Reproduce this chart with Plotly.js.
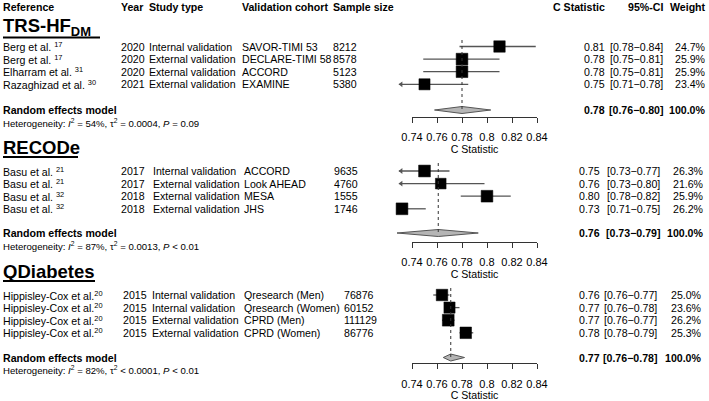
<!DOCTYPE html>
<html>
<head>
<meta charset="utf-8">
<script src="https://cdn.plot.ly/plotly-3.0.1.min.js"></script>
<style>html,body{margin:0;padding:0;background:#fff}</style>
</head>
<body>
<div id="chart" style="width:709px;height:401px"></div>
<script>
// TRS-HF_DM
const trsRefs = ['Berg et al.', 'Berg et al.', 'Elharram et al.', 'Razaghizad et al.'];
const trsCites = ['17', '17', '31', '30'];
const trsYears = ['2020', '2020', '2020', '2021'];
const trsTypes = ['Internal validation', 'External validation', 'External validation', 'External validation'];
const trsCohorts = ['SAVOR-TIMI 53', 'DECLARE-TIMI 58', 'ACCORD', 'EXAMINE'];
const trsN = ['8212', '8578', '5123', '5380'];
const trsEst = [0.810, 0.780, 0.780, 0.750];
const trsLo = [0.778, 0.749, 0.749, 0.710];
const trsHi = [0.839, 0.810, 0.810, 0.785];
const trsStat = ['0.81', '0.78', '0.78', '0.75'];
const trsCi = ['[0.78−0.84]', '[0.75−0.81]', '[0.75−0.81]', '[0.71−0.78]'];
const trsWeight = [24.7, 25.9, 25.9, 23.4];
const trsPooled = [0.780, 0.758, 0.803];
const trsPooledText = ['0.78', '[0.76−0.80]'];
const trsHet = ['54%', '= 0.0004', '= 0.09'];

// RECODe
const recRefs = ['Basu et al.', 'Basu et al.', 'Basu et al.', 'Basu et al.'];
const recCites = ['21', '21', '32', '32'];
const recYears = ['2017', '2017', '2018', '2018'];
const recTypes = ['Internal validation', 'External validation', 'External validation', 'External validation'];
const recCohorts = ['ACCORD', 'Look AHEAD', 'MESA', 'JHS'];
const recN = ['9635', '4760', '1555', '1746'];
const recEst = [0.750, 0.763, 0.800, 0.732];
const recLo = [0.725, 0.726, 0.779, 0.710];
const recHi = [0.770, 0.798, 0.819, 0.751];
const recStat = ['0.75', '0.76', '0.80', '0.73'];
const recCi = ['[0.73−0.77]', '[0.73−0.80]', '[0.78−0.82]', '[0.71−0.75]'];
const recWeight = [26.3, 21.6, 25.9, 26.2];
const recPooled = [0.761, 0.728, 0.793];
const recPooledText = ['0.76', '[0.73−0.79]'];
const recHet = ['87%', '= 0.0013', '&lt; 0.01'];

// QDiabetes
const qdRefs = ['Hippisley-Cox et al.', 'Hippisley-Cox et al.', 'Hippisley-Cox et al.', 'Hippisley-Cox et al.'];
const qdCites = ['20', '20', '20', '20'];
const qdYears = ['2015', '2015', '2015', '2015'];
const qdTypes = ['Internal validation', 'Internal validation', 'External validation', 'External validation'];
const qdCohorts = ['Qresearch (Men)', 'Qresearch (Women)', 'CPRD (Men)', 'CPRD (Women)'];
const qdN = ['76876', '60152', '111129', '86776'];
const qdEst = [0.764, 0.770, 0.769, 0.783];
const qdLo = [0.757, 0.766, 0.764, 0.778];
const qdHi = [0.770, 0.778, 0.774, 0.789];
const qdStat = ['0.76', '0.77', '0.77', '0.78'];
const qdCi = ['[0.76−0.77]', '[0.76−0.78]', '[0.76−0.77]', '[0.78−0.79]'];
const qdWeight = [25.0, 23.6, 26.2, 25.3];
const qdPooled = [0.771, 0.765, 0.782];
const qdPooledText = ['0.77', '[0.76−0.78]'];
const qdHet = ['82%', '&lt; 0.0001', '&lt; 0.01'];

const headers = ['Reference', 'Year', 'Study type', 'Validation cohort', 'Sample size'];
const headersRight = ['C Statistic', '95%-CI', 'Weight'];
const cTicks = [0.74, 0.76, 0.78, 0.80, 0.82, 0.84];
const cTickLabels = ['0.74', '0.76', '0.78', '0.8', '0.82', '0.84'];

const panels = [
    { title: 'TRS-HF<sub>DM</sub>', refs: trsRefs, cites: trsCites, years: trsYears, types: trsTypes, cohorts: trsCohorts, n: trsN,
      est: trsEst, lo: trsLo, hi: trsHi, stat: trsStat, ci: trsCi, w: trsWeight, pooled: trsPooled, pooledText: trsPooledText, het: trsHet },
    { title: 'RECODe', refs: recRefs, cites: recCites, years: recYears, types: recTypes, cohorts: recCohorts, n: recN,
      est: recEst, lo: recLo, hi: recHi, stat: recStat, ci: recCi, w: recWeight, pooled: recPooled, pooledText: recPooledText, het: recHet },
    { title: 'QDiabetes', refs: qdRefs, cites: qdCites, years: qdYears, types: qdTypes, cohorts: qdCohorts, n: qdN,
      est: qdEst, lo: qdLo, hi: qdHi, stat: qdStat, ci: qdCi, w: qdWeight, pooled: qdPooled, pooledText: qdPooledText, het: qdHet }
];

// pixel placement of each block (y grows downwards)
const W = 709, H = 401;
const FONT = '"Liberation Sans", Arial, Helvetica, sans-serif';
const ROW = 12.6;
const CLIP = 0.7295;
const place = [
    { title: 27, ul: 37.5, ulEnd: 100, row0: 46.5, pooled: 110, axis: 116.7, dotTop: 40, cols: [2, 120, 148, 241, 332], right: [606, 664, 707] },
    { title: 147, ul: 157, ulEnd: 78, row0: 171, pooled: 233, axis: 241.7, dotTop: 163, cols: [2, 120, 152, 243, 333], right: [601, 661, 705] },
    { title: 271, ul: 281, ulEnd: 95, row0: 295, pooled: 357.5, axis: 363.3, dotTop: 288, cols: [2, 122, 151, 243, 343], right: [601, 658, 703] }
];

const annotations = [];
const shapes = [];
const traces = [];

function txt(x, y, text, o = {}) {
    annotations.push({
        xref: 'paper', yref: 'y', x: x / W, y: y, text: text, showarrow: false,
        xanchor: o.anchor || 'left', yanchor: 'middle', borderpad: 0,
        font: { family: FONT, size: o.size || 10.6, color: '#000' }
    });
}

// header row
headers.forEach((h, i) => txt(place[0].cols[i], 7, '<b>' + h + '</b>'));
headersRight.forEach((h, i) => txt(place[0].right[i], 7, '<b>' + h + '</b>', { anchor: 'right' }));

const layout = {
    width: W, height: H,
    margin: { l: 0, r: 0, t: 0, b: 0 },
    paper_bgcolor: '#fff', plot_bgcolor: 'rgba(0,0,0,0)',
    showlegend: false, hovermode: false,
    font: { family: FONT, color: '#000' },
    xaxis: { domain: [387 / W, 562 / W], range: [0.72, 0.86], visible: false, fixedrange: true },
    yaxis: { domain: [0, 1], range: [H, 0], visible: false, fixedrange: true }
};

panels.forEach((p, k) => {
    const g = place[k];
    const rowsY = p.est.map((_, i) => g.row0 + i * ROW);

    // block title with underline
    txt(2, g.title, '<b>' + p.title + '</b>', { size: 18.5 });
    shapes.push({ type: 'line', xref: 'paper', yref: 'y', x0: 3 / W, x1: g.ulEnd / W, y0: g.ul, y1: g.ul,
        line: { color: '#000', width: 2 } });

    // study rows
    p.refs.forEach((r, i) => {
        const y = rowsY[i];
        txt(g.cols[0], y, r + (k < 2 ? ' ' : '') + '<sup>' + p.cites[i] + '</sup>');
        txt(g.cols[1], y, p.years[i]);
        txt(g.cols[2], y, p.types[i]);
        txt(g.cols[3], y, p.cohorts[i]);
        txt(g.cols[4], y, p.n[i]);
        txt(g.right[0], y, p.stat[i], { anchor: 'right' });
        txt(g.right[1], y, p.ci[i], { anchor: 'right' });
        txt(g.right[2], y, p.w[i].toFixed(1) + '%', { anchor: 'right' });
    });

    // pooled row
    txt(g.cols[0], g.pooled, '<b>Random effects model</b>');
    txt(g.right[0], g.pooled, '<b>' + p.pooledText[0] + '</b>', { anchor: 'right' });
    txt(g.right[1], g.pooled, '<b>' + p.pooledText[1] + '</b>', { anchor: 'right' });
    txt(g.right[2], g.pooled, '<b>100.0%</b>', { anchor: 'right' });
    txt(g.cols[0], g.pooled + 12.5, 'Heterogeneity: <i>I</i><sup>2</sup> = ' + p.het[0] + ', τ<sup>2</sup> ' + p.het[1] +
        ', <i>P</i> ' + p.het[2], { size: 9.6 });

    // confidence intervals, cut at the plot limit with an arrow
    const cx = [], cy = [], arX = [], arY = [];
    p.lo.forEach((lo, i) => {
        cx.push(Math.max(lo, CLIP), p.hi[i], null);
        cy.push(rowsY[i], rowsY[i], null);
        if (lo < CLIP) { arX.push(CLIP + 0.0018); arY.push(rowsY[i]); }
    });
    traces.push({ x: cx, y: cy, mode: 'lines', line: { color: '#555', width: 1.3 }, hoverinfo: 'skip' });
    if (arX.length) {
        traces.push({ x: arX, y: arY, mode: 'markers', cliponaxis: false, hoverinfo: 'skip',
            marker: { symbol: 'triangle-left', size: 5, color: '#555', line: { width: 0 } } });
    }

    // study squares, area proportional to weight
    traces.push({
        x: p.est, y: rowsY, mode: 'markers', cliponaxis: false, hoverinfo: 'skip', opacity: 1,
        marker: { symbol: 'square', color: 'black', opacity: 1, size: p.w.map(v => 11.5 * Math.sqrt(v / 25)),
            line: { width: 0.5, color: 'black' } }
    });

    // pooled diamond
    const [m, dl, dh] = p.pooled;
    const yc = g.pooled;
    traces.push({
        x: [dl, m, dh, m, dl], y: [yc, yc - 3.5, yc, yc + 3.5, yc], mode: 'lines', fill: 'toself',
        fillcolor: '#b5b5b5', line: { color: '#555', width: 1 }, cliponaxis: false, hoverinfo: 'skip'
    });

    // axis with the pooled estimate as dotted reference line
    const ax = 'xaxis' + (k + 2);
    layout[ax] = {
        domain: [412 / W, 537 / W], range: [0.74, 0.84], anchor: 'free', position: 1 - g.axis / H, side: 'bottom',
        showline: true, linecolor: '#333', linewidth: 1, ticks: 'outside', ticklen: 5, tickcolor: '#333', tickwidth: 1,
        ticklabelstandoff: 5,
        tickvals: cTicks, ticktext: cTickLabels, tickfont: { family: FONT, size: 11, color: '#000' },
        showgrid: false, zeroline: false, fixedrange: true,
        title: { text: 'C Statistic', font: { family: FONT, size: 10.6, color: '#000' }, standoff: 2 }
    };
    traces.push({
        x: [m, m], y: [g.dotTop, yc], xaxis: 'x' + (k + 2), yaxis: 'y', mode: 'lines',
        line: { color: '#333', width: 1, dash: 'dot' }, hoverinfo: 'skip'
    });
});

layout.annotations = annotations;
layout.shapes = shapes;

Plotly.newPlot('chart', traces, layout, { displayModeBar: false, staticPlot: true });
</script>
</body>
</html>
